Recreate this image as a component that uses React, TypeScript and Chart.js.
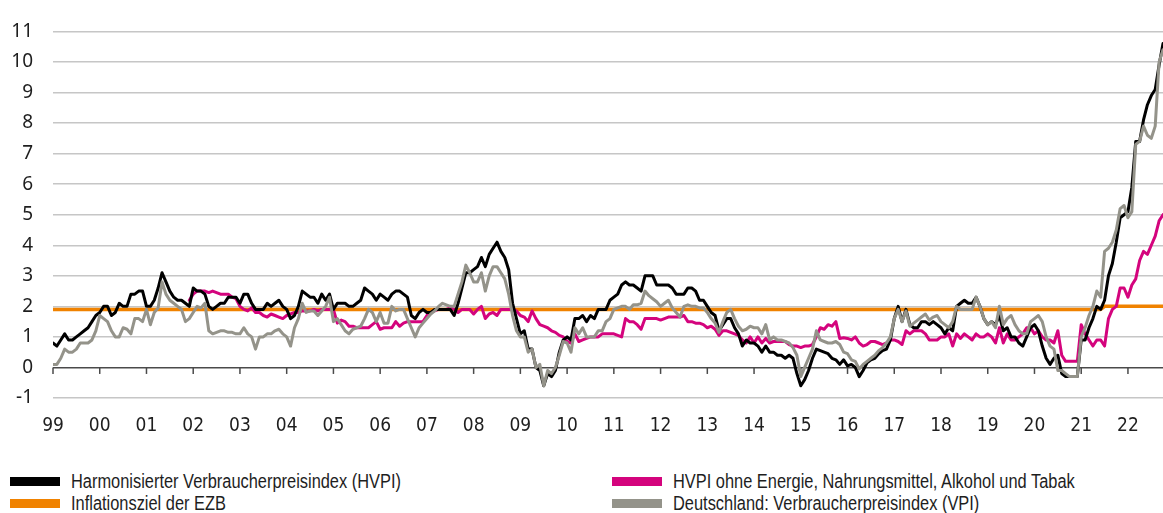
import React, { useEffect, useRef } from "react";
import { Chart, registerables } from "chart.js";

Chart.register(...registerables);

// Jahres-Beschriftungen der x-Achse (Januar jedes Jahres)
const jahre = ["99","00","01","02","03","04","05","06","07","08","09","10","11","12","13","14","15","16","17","18","19","20","21","22"];
const yTicks = [-1, 0, 1, 2, 3, 4, 5, 6, 7, 8, 9, 10, 11];

// Harmonisierter Verbraucherpreisindex (HVPI), Jan 1999 – Okt 2022
const hvpi = [
  0.8, 0.7, 0.9, 1.1, 0.9, 0.9, 1.0, 1.1, 1.2, 1.3, 1.5, 1.7,
  1.8, 2.0, 2.0, 1.7, 1.8, 2.1, 2.0, 2.0, 2.4, 2.4, 2.5, 2.5,
  2.0, 2.0, 2.2, 2.6, 3.1, 2.8, 2.5, 2.3, 2.2, 2.2, 2.1, 2.0,
  2.6, 2.5, 2.5, 2.4, 2.0, 1.9, 2.0, 2.1, 2.1, 2.3, 2.3, 2.3,
  2.1, 2.4, 2.4, 2.1, 1.9, 1.9, 1.9, 2.1, 2.0, 2.1, 2.2, 2.0,
  1.9, 1.6, 1.7, 2.0, 2.5, 2.4, 2.3, 2.3, 2.1, 2.4, 2.2, 2.4,
  1.9, 2.1, 2.1, 2.1, 2.0, 2.0, 2.1, 2.2, 2.6, 2.5, 2.4, 2.2,
  2.4, 2.3, 2.2, 2.4, 2.5, 2.5, 2.4, 2.3, 1.7, 1.6, 1.8, 1.9,
  1.8, 1.8, 1.9, 1.9, 1.9, 1.9, 1.9, 1.7, 2.1, 2.6, 3.1, 3.1,
  3.2, 3.3, 3.6, 3.3, 3.7, 3.9, 4.1, 3.8, 3.6, 3.2, 2.1, 1.6,
  1.1, 1.2, 0.6, 0.6, 0.0, -0.1, -0.6, -0.2, -0.3, -0.1, 0.5, 0.9,
  1.0, 0.9, 1.6, 1.6, 1.7, 1.5, 1.7, 1.6, 1.9, 1.9, 1.9, 2.2,
  2.3, 2.4, 2.7, 2.8, 2.7, 2.7, 2.6, 2.5, 3.0, 3.0, 3.0, 2.7,
  2.7, 2.7, 2.7, 2.6, 2.4, 2.4, 2.4, 2.6, 2.6, 2.5, 2.2, 2.2,
  2.0, 1.8, 1.7, 1.2, 1.4, 1.6, 1.6, 1.3, 1.1, 0.7, 0.9, 0.8,
  0.8, 0.7, 0.5, 0.7, 0.5, 0.5, 0.4, 0.4, 0.3, 0.4, 0.3, -0.2,
  -0.6, -0.4, -0.1, 0.3, 0.6, 0.55, 0.5, 0.45, 0.3, 0.25, 0.1, 0.25,
  0.05, 0.1, 0.0, -0.3, -0.1, 0.15, 0.25, 0.3, 0.45, 0.55, 0.6, 0.9,
  1.6, 2.0, 1.5, 1.9, 1.4, 1.3, 1.3, 1.5, 1.5, 1.4, 1.5, 1.4,
  1.3, 1.1, 1.3, 1.2, 2.0, 2.1, 2.2, 2.1, 2.1, 2.3, 2.0, 1.6,
  1.4, 1.5, 1.4, 1.7, 1.2, 1.3, 1.0, 1.0, 0.8, 0.7, 1.0, 1.3,
  1.4, 1.2, 0.7, 0.3, 0.1, 0.3, 0.4, -0.2, -0.3, -0.3, -0.3, -0.3,
  0.9, 0.9, 1.3, 1.6, 2.0, 1.9, 2.2, 3.0, 3.4, 4.1, 4.9, 5.0,
  5.1, 5.9, 7.4, 7.4, 8.1, 8.6, 8.9, 9.1, 9.9, 10.6,
];

// HVPI ohne Energie, Nahrungsmittel, Alkohol und Tabak – ab Dez 2001 (Monat 35)
const kernStartMonat = 35;
const hvpiKern = [
  2.2,
  2.4, 2.5, 2.5, 2.5, 2.45, 2.5, 2.45, 2.4, 2.4, 2.4, 2.3, 2.25,
  2.0, 1.9, 1.85, 1.95, 1.8, 1.8, 1.7, 1.65, 1.75, 1.7, 1.65, 1.6,
  1.7, 1.75, 1.8, 1.8, 1.85, 1.85, 1.85, 1.9, 1.85, 1.9, 1.9, 1.9,
  1.9, 1.45, 1.55, 1.5, 1.35, 1.35, 1.3, 1.3, 1.3, 1.3, 1.4, 1.5,
  1.25, 1.3, 1.3, 1.3, 1.5, 1.35, 1.45, 1.5, 1.5, 1.5, 1.5, 1.5,
  1.7, 1.8, 1.85, 1.9, 1.9, 1.9, 1.95, 1.9, 1.8, 1.9, 1.9, 1.9,
  1.75, 1.9, 2.0, 1.6, 1.75, 1.8, 1.7, 1.9, 1.9, 1.9, 1.9, 1.85,
  1.7, 1.65, 1.5, 1.85, 1.6, 1.4, 1.35, 1.3, 1.2, 1.15, 1.05, 1.0,
  0.85, 0.8, 1.1, 0.85, 0.9, 0.95, 1.0, 1.0, 1.0, 1.1, 1.1, 1.1,
  1.1, 1.05, 1.0, 1.6, 1.5, 1.5, 1.4, 1.25, 1.6, 1.6, 1.6, 1.6,
  1.55, 1.6, 1.65, 1.65, 1.65, 1.65, 1.7, 1.5, 1.5, 1.45, 1.45, 1.4,
  1.3, 1.35, 1.25, 1.05, 1.2, 1.2, 1.15, 1.1, 1.05, 0.9, 0.8, 1.0,
  0.8, 1.0, 0.8, 0.95, 0.8, 0.85, 0.85, 0.85, 0.85, 0.75, 0.7, 0.7,
  0.65, 0.7, 0.7, 0.75, 1.0, 1.3, 1.25, 1.4, 1.35, 1.5, 0.95, 0.97,
  0.95, 0.9, 1.0, 0.8, 0.7, 0.75, 0.85, 0.85, 0.8, 0.75, 0.8, 0.9,
  0.9, 0.85, 0.75, 1.2, 1.1, 1.2, 1.2, 1.2, 1.1, 0.9, 0.9, 0.9,
  1.0, 1.0, 1.1, 0.7, 1.1, 0.95, 1.1, 1.0, 0.9, 1.1, 1.0, 1.0,
  1.1, 1.0, 0.8, 1.3, 0.8, 1.1, 0.9, 0.9, 1.0, 1.1, 1.3, 1.3,
  1.1, 1.2, 1.0, 0.9, 0.9, 0.8, 1.2, 0.4, 0.2, 0.2, 0.2, 0.2,
  1.4, 1.1, 0.9, 0.7, 0.9, 0.9, 0.7, 1.6, 1.9, 2.0, 2.6, 2.6,
  2.3, 2.7, 2.9, 3.5, 3.8, 3.7, 4.0, 4.3, 4.8, 5.0,
];

// Deutschland: Verbraucherpreisindex (VPI), Jan 1999 – Okt 2022
const vpi = [
  0.1, 0.1, 0.3, 0.6, 0.5, 0.5, 0.6, 0.8, 0.8, 0.8, 0.9, 1.2,
  1.7, 1.6, 1.5, 1.2, 1.0, 1.0, 1.3, 1.25, 1.1, 1.6, 1.6, 1.5,
  1.9, 1.4, 1.8, 1.95, 2.8, 2.4, 2.2, 2.1, 2.0, 1.9, 1.5, 1.6,
  1.8, 2.0, 1.95, 2.1, 1.2, 1.1, 1.15, 1.2, 1.2, 1.15, 1.15, 1.1,
  1.1, 1.3, 1.1, 1.0, 0.6, 1.0, 1.0, 1.1, 1.1, 1.2, 1.25, 1.1,
  1.0, 0.7, 1.3, 1.6, 2.1, 1.8, 1.85, 1.85, 1.7, 1.85, 2.0, 2.3,
  1.5, 1.6, 1.4, 1.2, 1.1, 1.25, 1.3, 1.35, 1.6, 1.9, 1.8, 1.5,
  1.8, 1.45, 1.45, 2.0, 1.85, 1.9, 1.9, 1.6, 1.3, 1.0, 1.3, 1.45,
  1.6, 1.75, 1.85, 2.0, 2.1, 2.05, 2.0, 2.0, 2.4, 2.8, 3.35, 3.1,
  2.8, 2.8, 3.1, 2.5, 3.0, 3.3, 3.3, 3.1, 2.9, 2.4, 1.7, 1.2,
  1.0, 1.0, 0.5, 0.6, 0.0, 0.1, -0.6, -0.1, -0.2, 0.0, 0.4, 0.85,
  0.8, 0.5, 1.3, 1.1, 1.3, 1.0, 1.0, 1.0, 1.2, 1.2, 1.5, 1.6,
  1.9, 1.95, 2.0, 2.0, 1.9, 2.05, 2.05, 2.1, 2.5, 2.35, 2.25, 2.15,
  2.0, 2.1, 2.2, 1.95, 1.8, 1.65, 2.0, 2.05, 2.0, 2.0, 1.95, 1.95,
  1.8, 1.6, 1.45, 1.15, 1.5, 1.8, 1.9, 1.6, 1.35, 1.2, 1.25, 1.35,
  1.3, 1.3, 1.1, 1.4, 0.9, 1.0, 0.9, 0.9, 0.85, 0.8, 0.65, 0.4,
  -0.3, 0.0, 0.3, 0.6, 1.2, 0.9, 0.85, 0.8, 0.8, 0.85, 0.75, 0.5,
  0.45, 0.25, 0.2, -0.05, 0.1, 0.2, 0.3, 0.4, 0.55, 0.65, 0.8, 1.0,
  1.6, 1.9, 1.5, 1.85, 1.35, 1.45, 1.55, 1.65, 1.75, 1.55, 1.65, 1.7,
  1.5, 1.4, 1.3, 1.5, 2.0, 1.9, 1.9, 1.9, 1.9, 2.3, 2.0, 1.6,
  1.4, 1.5, 1.3, 2.0, 1.4, 1.6, 1.7, 1.4, 1.2, 1.1, 1.1, 1.5,
  1.6, 1.7, 1.5, 1.0, 0.7, 0.6, -0.1, -0.1, -0.2, -0.3, -0.3, -0.3,
  1.0, 1.3, 1.7, 2.0, 2.5, 2.3, 3.8, 3.9, 4.1, 4.5, 5.2, 5.3,
  4.9, 5.1, 7.3, 7.4, 7.9, 7.6, 7.5, 7.9, 10.0, 10.4,
];

// Inflationsziel der EZB (Monat seit Jan 1999, Wert)
const zielMonate = [0, 269, 270, 285];
const zielWerte = [1.9, 1.9, 2.0, 2.0];

const TICK_FONT_Y = "'Noto Sans', 'Liberation Sans', sans-serif";
const TICK_FONT_X = "'DejaVu Sans', 'Liberation Sans', sans-serif";
const LEGEND_FONT = "'Liberation Sans', Arial, sans-serif";
const TEXT = "#1e1e1e";

const toXY = (werte: number[], start: number) => werte.map((v, i) => ({ x: start + i, y: v }));

const legendItems = [
  { label: "Harmonisierter Verbraucherpreisindex (HVPI)", color: "#000000", left: 10, top: 481 },
  { label: "HVPI ohne Energie, Nahrungsmittel, Alkohol und Tabak", color: "#d4047d", left: 612, top: 481 },
  { label: "Inflationsziel der EZB", color: "#f08200", left: 10, top: 503 },
  { label: "Deutschland: Verbraucherpreisindex (VPI)", color: "#94938a", left: 612, top: 503 },
];

const zeroTicks = {
  id: "zeroTicks",
  beforeDatasetsDraw(chart: any) {
    const { ctx, scales } = chart;
    const x = scales.x;
    const y = scales.y;
    const y0 = y.getPixelForValue(0);
    ctx.save();
    ctx.strokeStyle = "#4a4a4a";
    ctx.lineWidth = 1.5;
    jahre.forEach((_, i) => {
      const px = x.getPixelForValue(i * 12);
      ctx.beginPath();
      ctx.moveTo(px, y0);
      ctx.lineTo(px, y0 + 6.5);
      ctx.stroke();
    });
    ctx.restore();
  },
};

export default function App() {
  const ref = useRef<HTMLCanvasElement | null>(null);

  useEffect(() => {
    if (!ref.current) return;
    const common = { pointRadius: 0, pointHoverRadius: 0, tension: 0, borderJoinStyle: "round" as const, borderCapStyle: "round" as const, fill: false };
    const chart = new Chart(ref.current, {
      type: "line",
      data: {
        datasets: [
          { ...common, label: "Deutschland: Verbraucherpreisindex (VPI)", data: toXY(vpi, 0), borderColor: "#94938a", borderWidth: 3 },
          { ...common, label: "Harmonisierter Verbraucherpreisindex (HVPI)", data: toXY(hvpi, 0), borderColor: "#000000", borderWidth: 3 },
          { ...common, label: "HVPI ohne Energie, Nahrungsmittel, Alkohol und Tabak", data: toXY(hvpiKern, kernStartMonat), borderColor: "#d4047d", borderWidth: 3 },
          { ...common, label: "Inflationsziel der EZB", data: zielMonate.map((m, i) => ({ x: m, y: zielWerte[i] })), borderColor: "#f08200", borderWidth: 3.5 },
        ],
      },
      options: {
        responsive: false,
        maintainAspectRatio: false,
        animation: false,
        devicePixelRatio: 1,
        layout: { padding: { top: 23, left: 0, right: 0, bottom: 0 } },
        plugins: { legend: { display: false }, tooltip: { enabled: false } },
        scales: {
          x: {
            type: "linear",
            min: 0,
            max: 285,
            grid: { display: false, drawTicks: false },
            border: { display: false },
            afterBuildTicks: (scale: any) => {
              scale.ticks = jahre.map((_, i) => ({ value: i * 12 }));
            },
            afterFit: (scale: any) => {
              scale.height = 42;
            },
            ticks: {
              autoSkip: false,
              maxRotation: 0,
              padding: 17,
              color: TEXT,
              font: { family: TICK_FONT_X, size: 19, style: "normal", weight: "condensed" as any },
              callback: (v: any) => jahre[Math.round(Number(v) / 12)] ?? "",
            },
          },
          y: {
            min: -1,
            max: 11,
            afterBuildTicks: (scale: any) => {
              scale.ticks = yTicks.map((v) => ({ value: v }));
            },
            afterFit: (scale: any) => {
              scale.width = 53;
            },
            grid: {
              drawTicks: false,
              lineWidth: 1.5,
              color: (c: any) => (c.tick && c.tick.value === 0 ? "#4a4a4a" : "#c6c6c6"),
            },
            border: { display: false },
            ticks: {
              padding: 20,
              color: TEXT,
              font: { family: TICK_FONT_Y, size: 19, style: "normal", weight: "extra-condensed" as any },
              callback: (v: any) => String(v),
            },
          },
        },
      },
      plugins: [zeroTicks],
    });
    return () => chart.destroy();
  }, []);

  return (
    <div style={{ position: "fixed", left: 0, top: 0, width: 1163, height: 513, background: "#fff", overflow: "hidden" }}>
      <canvas ref={ref} width={1163} height={440} style={{ position: "absolute", left: 0, top: 0, width: 1163, height: 440 }} />
      {legendItems.map((it) => (
        <div
          key={it.label}
          style={{
            position: "absolute",
            left: it.left,
            top: it.top - 12,
            height: 24,
            display: "flex",
            alignItems: "center",
            color: TEXT,
            whiteSpace: "nowrap",
          }}
        >
          <span style={{ display: "inline-block", width: 50, height: 9, background: it.color, marginRight: 11, flex: "none" }} />
          <span
            style={{
              display: "inline-block",
              fontFamily: LEGEND_FONT,
              fontSize: 20,
              lineHeight: "24px",
              transform: "scaleX(0.82)",
              transformOrigin: "left center",
            }}
          >
            {it.label}
          </span>
        </div>
      ))}
    </div>
  );
}
